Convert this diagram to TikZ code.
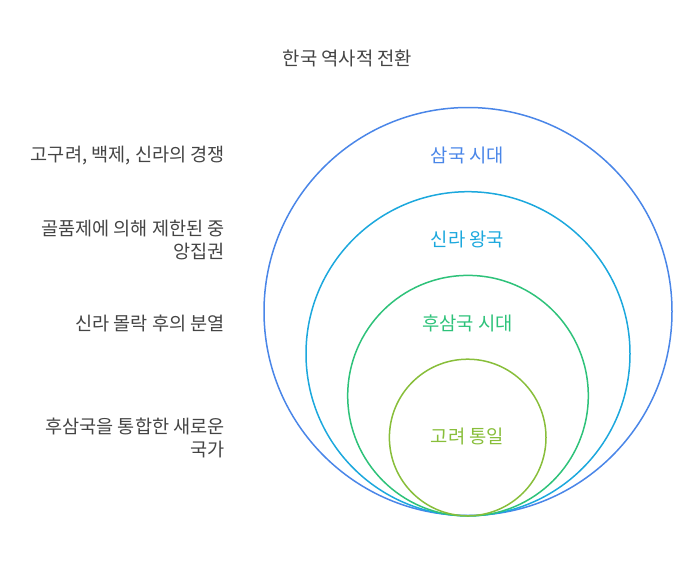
\documentclass[tikz,border=0pt]{standalone}
\usepackage{fontspec}
\usepackage{xcolor}
\usepackage{tikz}
\usetikzlibrary{positioning}
\setmainfont{Noto Sans CJK KR}
\definecolor{C1}{HTML}{4A86E8}
\definecolor{C2}{HTML}{1CA8DD}
\definecolor{C3}{HTML}{2EC27A}
\definecolor{C4}{HTML}{88BE3A}
\definecolor{T1}{HTML}{444444}

\begin{document}
\begin{tikzpicture}[
	x=1pt, y=-1pt,
	ring/.style = {draw, circle, inner sep=0pt, line width=1.5pt},
	ringlabel/.style = {font=\fontsize{18.8}{22}\selectfont},
	note/.style = {anchor=east, align=right, color=T1, inner sep=0pt, font=\fontsize{18.6}{23.4}\selectfont}
]
  \useasboundingbox (0,0) rectangle (696,565);
  % Define rings
  \node[ring, draw=C1, minimum size=408pt] at (468, 311.5) (samguk) {};
  \node[ring, draw=C2, minimum size=324pt] at (468, 353.7) (silla) {};
  \node[ring, draw=C3, minimum size=240.6pt] at (468, 395.7) (husamguk) {};
  \node[ring, draw=C4, minimum size=156.6pt] at (467.7, 437.5) (goryeo) {};

  % Ring labels
  \node[ringlabel, color=C1] at (467.5, 155.7) (lsamguk) {삼국 시대};
  \node[ringlabel, color=C2] at (467.5, 239.3) (lsilla) {신라 왕국};
  \node[ringlabel, color=C3] at (467.5, 323.3) (lhusamguk) {후삼국 시대};
  \node[ringlabel, color=C4] at (467.5, 436.7) (lgoryeo) {고려 통일};

  % Title and notes
  \node[color=T1, font=\fontsize{18.8}{22}\selectfont] at (347.5, 58) (title) {한국 역사적 전환};
  \node[note] at (225, 156) (nsamguk) {고구려, 백제, 신라의 경쟁};
  \node[note] at (225, 240) (nsilla) {골품제에 의해 제한된 중\\앙집권};
  \node[note] at (225, 323.3) (nhusamguk) {신라 몰락 후의 분열};
  \node[note] at (225, 438) (ngoryeo) {후삼국을 통합한 새로운\\국가};
\end{tikzpicture}
\end{document}
